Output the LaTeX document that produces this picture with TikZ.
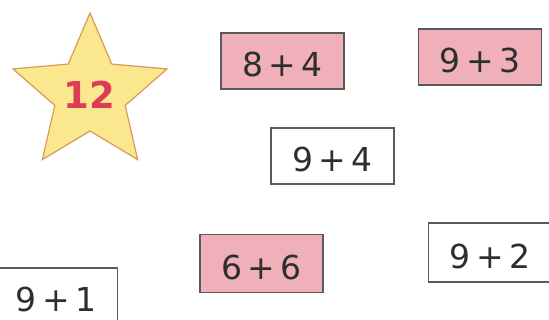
\documentclass[tikz,border=0pt]{standalone}
\usepackage{fontspec}
\setmainfont{DejaVu Sans}
\definecolor{pinkfill}{HTML}{EFB0BA}
\definecolor{boxline}{HTML}{5A5A5A}
\definecolor{starfill}{HTML}{FBE78E}
\definecolor{starline}{HTML}{D89A58}
\definecolor{numred}{HTML}{DC3C55}
\definecolor{txt}{HTML}{2E2E2E}
\begin{document}
\begin{tikzpicture}[x=1pt,y=-1pt,
  sumbox/.style={draw=boxline,line width=1.6pt,inner sep=0pt,minimum width=123pt,minimum height=56pt,text=txt,font=\fontsize{33}{33}\selectfont,text depth=0pt,text height=32pt},
  pinkbox/.style={sumbox,fill=pinkfill},
  whitebox/.style={sumbox,fill=white}]
\useasboundingbox (0,0) rectangle (549,320);
\fill[white] (0,0) rectangle (549,320);
% star
\draw[shift={(90,94)},fill=starfill,draw=starline,line width=1.2pt,line join=miter]
  (270:81) -- (306:37) -- (342:81) -- (18:37) -- (54:81) -- (90:37)
  -- (126:81) -- (162:37) -- (198:81) -- (234:37) -- cycle;
\node[text=numred,font=\bfseries\fontsize{37}{37}\selectfont] (twelve) at (89,95) {12};
% boxes
\node[pinkbox] (b84) at (282.5,61) {8\,+\,4};
\node[pinkbox] (b93) at (480,57) {9\,+\,3};
\node[whitebox] (b94) at (332.5,156) {9\,+\,4};
\node[pinkbox,minimum height=58pt] (b66) at (261.5,263.5) {6\,+\,6};
\node[whitebox,minimum height=59pt] (b92) at (490,252.5) {9\,+\,2};
\node[whitebox] (b91) at (56,296) {9\,+\,1};
\end{tikzpicture}
\end{document}
